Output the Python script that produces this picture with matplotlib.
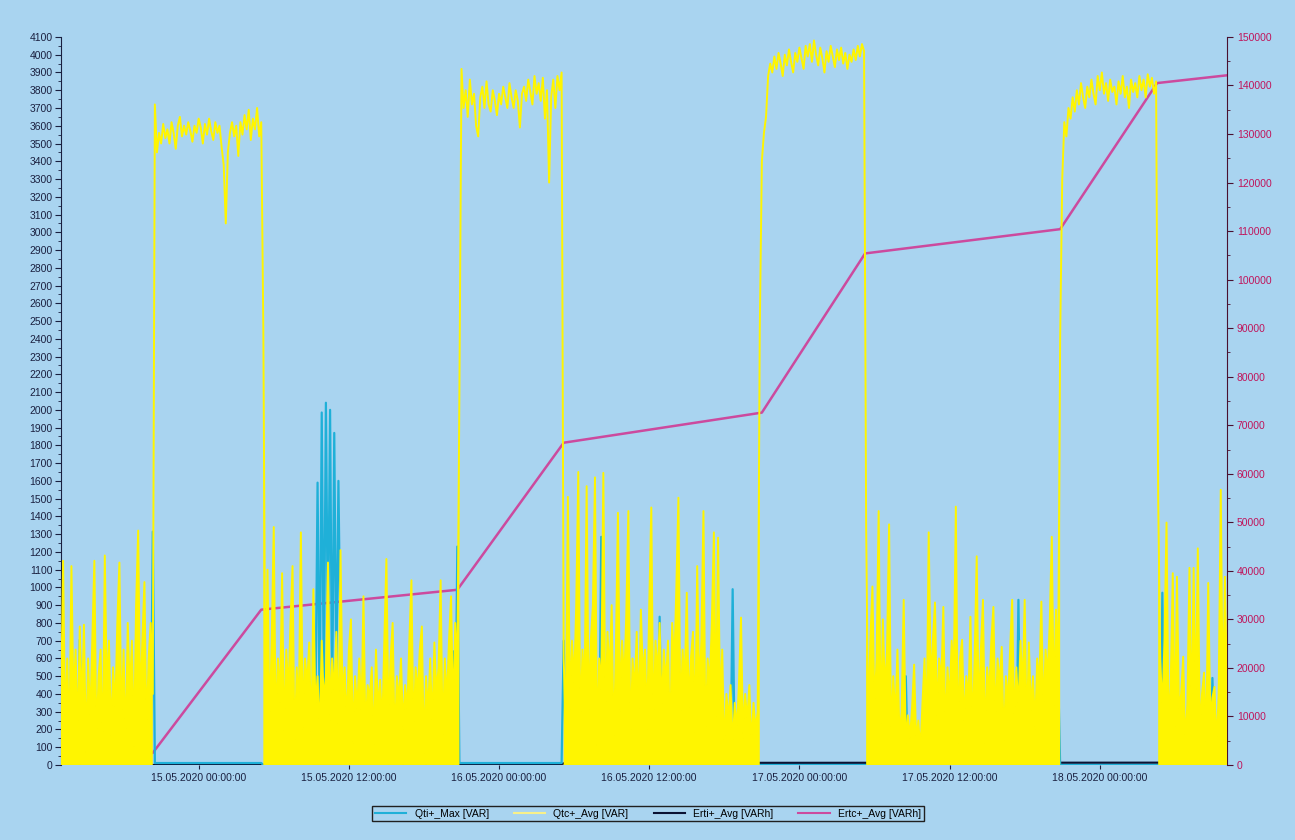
import numpy as np
import pandas as pd
import matplotlib
matplotlib.use("Agg")
import matplotlib.pyplot as plt
import matplotlib.dates as mdates
from matplotlib.lines import Line2D
from matplotlib.ticker import MultipleLocator

plt.rcParams["font.family"] = ["Liberation Sans", "DejaVu Sans"]

# --- data, 10 minute samples starting 14.05.2020 13:00 -------------------
START = "2020-05-14 13:00"
END = "2020-05-18 10:10"

# Qtc+_Avg [VAR], one list per operating phase (low / high load)
qtc_low_a = [300, 1150, 200, 600, 100, 1120, 350, 650, 150, 780,
             300, 790, 60, 600, 250, 700, 1150, 100, 500, 650,
             20, 1180, 400, 700, 150, 550, 300, 800, 1140, 200,
             650, 80, 800, 400, 700, 100, 900, 1320, 300, 700,
             1030, 150, 600, 800, 400]
qtc_high_1 = [3720, 3450, 3560, 3500, 3610, 3530, 3580, 3500, 3620, 3560,
              3470, 3600, 3650, 3540, 3600, 3550, 3620, 3570, 3510, 3600,
              3560, 3640, 3590, 3500, 3610, 3550, 3640, 3570, 3520, 3620,
              3560, 3600, 3480, 3380, 3050, 3450, 3560, 3620, 3540, 3600,
              3430, 3620, 3550, 3660, 3580, 3690, 3520, 3640, 3580, 3700,
              3540, 3620]
qtc_low_b = [2450, 300, 1100, 200, 700, 1340, 150, 600, 350, 1080,
             100, 650, 400, 800, 1120, 50, 550, 300, 1310, 200,
             600, 450, 690, 100, 990, 300, 500, 150, 700, 350,
             500, 1140, 250, 600, 400, 750, 100, 1210, 350, 550,
             200, 650, 820, 120, 500, 300, 600, 250, 950, 150,
             450, 380, 550, 80, 650, 300, 480, 200, 700, 1160,
             250, 600, 800, 100, 500, 350, 600, 200, 450, 300,
             700, 1040, 150, 550, 400, 650, 780, 50, 500, 300,
             600, 200, 690, 400, 550, 1040, 100, 600, 350, 700,
             950, 250, 800, 500]
qtc_high_2 = [2100, 3920, 3700, 3800, 3650, 3860, 3720, 3780, 3600, 3540,
              3760, 3820, 3700, 3850, 3720, 3680, 3800, 3740, 3660, 3780,
              3720, 3820, 3760, 3700, 3840, 3760, 3700, 3800, 3740, 3590,
              3780, 3820, 3740, 3860, 3790, 3720, 3880, 3780, 3840, 3740,
              3870, 3640, 3800, 3280, 3760, 3860, 3700, 3880, 3800, 3900]
qtc_low_c = [600, 200, 1510, 300, 700, 450, 900, 1650, 150, 650,
             400, 1570, 250, 700, 900, 1620, 50, 600, 400, 1645,
             200, 750, 500, 900, 100, 650, 1420, 300, 700, 450,
             850, 1430, 50, 600, 400, 750, 250, 875, 500, 650,
             200, 900, 1450, 150, 700, 500, 800, 300, 650, 450,
             700, 100, 800, 550, 1000, 1505, 200, 650, 450, 970,
             300, 600, 750, 150, 1120, 400, 700, 1430, 100, 600,
             450, 800, 1310, 250, 1280, 300, 650, 50, 400, 250,
             450, 100, 350, 200, 450, 830, 150, 400, 250, 450,
             100, 350, 200, 300]
qtc_high_3 = [2450, 3400, 3560, 3650, 3880, 3950, 3900, 3990, 3920, 4010,
              3950, 3880, 4000, 3940, 4030, 3960, 3900, 4010, 3960, 4040,
              3980, 3920, 4050, 3990, 4060, 3960, 4080, 4000, 3940, 4040,
              3980, 3900, 4020, 3960, 4050, 3990, 3930, 4030, 3970, 4040,
              3950, 4010, 3920, 4000, 3960, 4030, 3970, 4050, 3990, 4060,
              4020]
qtc_low_d = [1335, 200, 700, 1005, 300, 600, 1430, 150, 820, 400,
             650, 1355, 100, 500, 250, 650, 150, 300, 930, 100,
             280, 150, 320, 565, 120, 250, 80, 350, 600, 200,
             1310, 400, 700, 915, 250, 600, 450, 890, 150, 550,
             350, 700, 500, 1455, 100, 600, 705, 200, 500, 350,
             835, 150, 600, 1175, 250, 650, 930, 100, 550, 400,
             700, 890, 200, 600, 450, 665, 100, 500, 350, 650,
             930, 200, 550, 300, 700, 400, 930, 150, 690, 300,
             500, 200, 600, 450, 920, 250, 650, 500, 800, 1285,
             300, 875, 450]
qtc_high_4 = [2400, 3300, 3620, 3540, 3700, 3640, 3760, 3680, 3800, 3720,
              3840, 3760, 3700, 3820, 3760, 3860, 3780, 3720, 3880, 3800,
              3900, 3780, 3840, 3740, 3860, 3790, 3820, 3720, 3850, 3780,
              3880, 3760, 3820, 3700, 3860, 3790, 3840, 3760, 3880, 3800,
              3860, 3760, 3890, 3820, 3870, 3780, 3850]
qtc_low_e = [1500, 600, 300, 700, 1365, 200, 450, 1080, 150, 1060,
             300, 400, 610, 100, 350, 1110, 200, 1110, 300, 1220,
             150, 400, 520, 100, 1025, 250, 380, 440, 100, 400,
             1550, 300, 1060, 400]

qtc_segments = [qtc_low_a, qtc_high_1, qtc_low_b, qtc_high_2, qtc_low_c,
                qtc_high_3, qtc_low_d, qtc_high_4, qtc_low_e]

# Qti+_Max [VAR]: resting level per phase plus the visible peaks
qti_levels = [0, 11, 0, 11, 0, 0, 0, 0, 0]
qti_peak_times = ["2020-05-14 14:30", "2020-05-14 20:20",
                  "2020-05-15 09:10", "2020-05-15 09:20", "2020-05-15 09:30",
                  "2020-05-15 09:40", "2020-05-15 09:50", "2020-05-15 10:00",
                  "2020-05-15 10:10", "2020-05-15 10:20", "2020-05-15 10:30",
                  "2020-05-15 10:40", "2020-05-15 10:50", "2020-05-15 11:00",
                  "2020-05-15 11:10", "2020-05-15 11:20",
                  "2020-05-15 15:10", "2020-05-15 16:20", "2020-05-15 18:10",
                  "2020-05-15 20:20", "2020-05-15 20:40",
                  "2020-05-16 05:10", "2020-05-16 08:10", "2020-05-16 12:50",
                  "2020-05-16 18:40",
                  "2020-05-17 08:30", "2020-05-17 17:30", "2020-05-17 20:00",
                  "2020-05-17 20:40",
                  "2020-05-18 05:00", "2020-05-18 09:00", "2020-05-18 09:50"]
qti_peak_values = [705, 1314,
                   100, 300, 1590, 250, 1985, 400, 2040, 650, 2000, 300,
                   1870, 450, 1600, 630,
                   235, 250, 200, 640, 1230,
                   700, 1285, 835, 990,
                   500, 930, 350, 535,
                   970, 490, 150]

# Erti+_Avg [VARh] and Ertc+_Avg [VARh] (cumulative energy)
erti_times = ["2020-05-14 13:00", "2020-05-16 04:40", "2020-05-16 05:20",
              "2020-05-18 10:10"]
erti_values = [0, 0, 420, 480]
ertc_times = ["2020-05-14 13:00", "2020-05-14 20:20", "2020-05-15 05:00",
              "2020-05-15 20:40", "2020-05-16 05:10", "2020-05-16 21:00",
              "2020-05-17 05:15", "2020-05-17 20:50", "2020-05-18 04:35",
              "2020-05-18 10:10"]
ertc_values = [0, 2500, 32000, 36100, 66400, 72600, 105400, 110400,
               140500, 142100]

# --- build series ---------------------------------------------------------
qtc = np.concatenate([np.asarray(s, dtype=float) for s in qtc_segments])
times = pd.date_range(START, periods=len(qtc), freq="10min")
qti = np.concatenate([np.full(len(s), lvl, dtype=float)
                      for s, lvl in zip(qtc_segments, qti_levels)])
qti[times.get_indexer(pd.to_datetime(qti_peak_times))] = qti_peak_values

BG = "#A9D4F0"
C_QTI = "#1FB0D8"
C_QTC = "#FFF500"
C_ERTI = "#0B1233"
C_ERTC = "#CC4A9E"
C_LEFT = "#1A2040"
C_RIGHT = "#C0145A"

fig = plt.figure(figsize=(12.95, 8.4), dpi=100, facecolor=BG)
ax = fig.add_axes([0.0471, 0.0893, 0.9004, 0.8667])
ax2 = ax.twinx()
ax.set_zorder(ax2.get_zorder() + 1)
ax.patch.set_visible(False)
ax2.patch.set_visible(False)

# right axis (drawn underneath)
ax2.plot(pd.to_datetime(erti_times), erti_values, color=C_ERTI, lw=1.6)
ax2.plot(pd.to_datetime(ertc_times), ertc_values, color=C_ERTC, lw=1.8)

# left axis
ax.plot(times, qti, color=C_QTI, lw=1.6, zorder=2)
ax.fill_between(times, 0, qtc, where=qtc < 3000, color=C_QTC, lw=0, zorder=3)
ax.plot(times, qtc, color=C_QTC, lw=1.4, zorder=3)

ax.set_xlim(pd.Timestamp(START), pd.Timestamp(END))
ax.set_ylim(0, 4100)
ax2.set_ylim(0, 150000)

ax.xaxis.set_major_locator(mdates.HourLocator(byhour=[0, 12]))
ax.xaxis.set_major_formatter(mdates.DateFormatter("%d.%m.%Y %H:%M:%S"))
ax.yaxis.set_major_locator(MultipleLocator(100))
ax.yaxis.set_minor_locator(MultipleLocator(50))
ax2.yaxis.set_major_locator(MultipleLocator(10000))
ax2.yaxis.set_minor_locator(MultipleLocator(5000))

for side in ["top", "right", "bottom"]:
    ax.spines[side].set_visible(False)
for side in ["top", "left", "bottom"]:
    ax2.spines[side].set_visible(False)
ax.spines["left"].set_color(C_LEFT)
ax2.spines["right"].set_color("#4A1030")

ax.tick_params(axis="y", which="major", length=4, color=C_LEFT,
               labelcolor=C_LEFT, labelsize=7.5, pad=2)
ax.tick_params(axis="y", which="minor", length=2.5, color=C_LEFT)
ax.tick_params(axis="x", length=3, color=C_LEFT, labelcolor=C_LEFT,
               labelsize=7.5, pad=3)
ax2.tick_params(axis="y", which="major", length=4, color="#4A1030",
                labelcolor=C_RIGHT, labelsize=7.5, pad=3)
ax2.tick_params(axis="y", which="minor", length=2.5, color="#4A1030")

handles = [Line2D([], [], color=C_QTI, lw=1.5),
           Line2D([], [], color="#F8F08A", lw=1.5),
           Line2D([], [], color=C_ERTI, lw=1.5),
           Line2D([], [], color=C_ERTC, lw=1.5)]
labels = ["Qti+_Max [VAR]", "Qtc+_Avg [VAR]", "Erti+_Avg [VARh]", "Ertc+_Avg [VARh]"]
leg = fig.legend(handles, labels, loc="center", bbox_to_anchor=(0.5004, 0.0315),
                 ncol=4, fontsize=7.5, frameon=True, fancybox=False,
                 edgecolor="#202020", facecolor=BG, framealpha=1,
                 handlelength=3.0, handletextpad=0.8, columnspacing=2.4,
                 borderpad=0.25)
leg.get_frame().set_linewidth(1.0)

fig.savefig("out.png", dpi=100, facecolor=BG)
